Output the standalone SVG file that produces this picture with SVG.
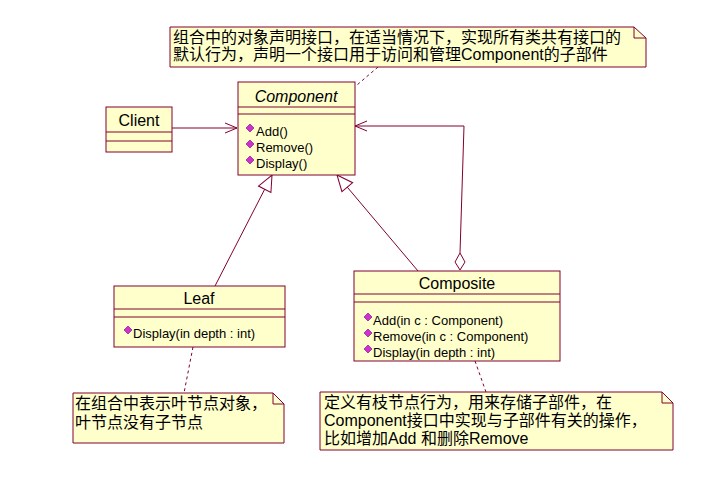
<svg xmlns="http://www.w3.org/2000/svg" width="722" height="495" viewBox="0 0 722 495">
<style>
.box{fill:#FFFFCC;stroke:#800030;stroke-width:1}
.ln{fill:none;stroke:#800030;stroke-width:1}
.dash{fill:none;stroke:#800030;stroke-width:1;stroke-dasharray:3,3}
.t{font-family:"Liberation Sans","Noto Sans CJK SC",sans-serif;fill:#000}
.title{font-size:16px;text-anchor:middle}
.m{font-size:13px}
.n{font-size:16px}
.ic{fill:#CC33CC;stroke:#800080;stroke-width:0.6}
</style>
<defs>
<marker id="open" markerWidth="14" markerHeight="12" refX="13" refY="6" orient="auto" markerUnits="userSpaceOnUse">
<path d="M1,1 L13,6 L1,11" fill="none" stroke="#800030" stroke-width="1"/>
</marker>
<marker id="tri" markerWidth="18" markerHeight="18" refX="17" refY="8" orient="auto" markerUnits="userSpaceOnUse">
<path d="M1,1 L17,8 L1,15 Z" fill="#fff" stroke="#800030" stroke-width="1"/>
</marker>
<path id="dia" d="M0,-4 L4,0 L0,4 L-4,0 Z"/>
</defs>
<rect width="722" height="495" fill="#fff"/>

<g id="connectors">
<line class="ln" x1="172" y1="128" x2="237" y2="128" marker-end="url(#open)"/>
<line class="ln" x1="215" y1="286" x2="272" y2="175" marker-end="url(#tri)"/>
<line class="ln" x1="418" y1="271" x2="337" y2="175" marker-end="url(#tri)"/>
<path class="ln" d="M460,270 L465,262 L460,253 L455,262 Z" fill="#fff"/>
<polyline class="ln" points="460,253 464,126 355,126" marker-end="url(#open)"/>
<line class="dash" x1="378" y1="67" x2="357" y2="85"/>
<line class="dash" x1="193" y1="347" x2="184" y2="393"/>
<line class="dash" x1="475" y1="361" x2="486" y2="392"/>
</g>

<g id="note-top">
<path class="box" d="M170,27 L634,27 L646,38 L646,67 L170,67 Z"/>
<path class="ln" d="M634,27 L634,38 L646,38"/>
<text class="t n" x="173" y="43">组合中的对象声明接口，在适当情况下，实现所有类共有接口的</text>
<text class="t n" x="173" y="60">默认行为，声明一个接口用于访问和管理Component的子部件</text>
</g>

<g id="client">
<rect class="box" x="106" y="107" width="66" height="45"/>
<line class="ln" x1="106" y1="132" x2="172" y2="132"/>
<line class="ln" x1="106" y1="141" x2="172" y2="141"/>
<text class="t title" x="139" y="126">Client</text>
</g>

<g id="component">
<rect class="box" x="238" y="82" width="117" height="93"/>
<line class="ln" x1="238" y1="107" x2="355" y2="107"/>
<line class="ln" x1="238" y1="114" x2="355" y2="114"/>
<text class="t title" x="296" y="102" font-style="italic">Component</text>
<use href="#dia" class="ic" x="250" y="128"/>
<text class="t m" x="256" y="136">Add()</text>
<use href="#dia" class="ic" x="250" y="144"/>
<text class="t m" x="256" y="152">Remove()</text>
<use href="#dia" class="ic" x="250" y="160"/>
<text class="t m" x="256" y="168">Display()</text>
</g>

<g id="leaf">
<rect class="box" x="114" y="286" width="171" height="61"/>
<line class="ln" x1="114" y1="309" x2="285" y2="309"/>
<line class="ln" x1="114" y1="317" x2="285" y2="317"/>
<text class="t title" x="199" y="304">Leaf</text>
<use href="#dia" class="ic" x="128" y="330"/>
<text class="t m" x="133" y="338">Display(in depth : int)</text>
</g>

<g id="composite">
<rect class="box" x="354" y="271" width="206" height="90"/>
<line class="ln" x1="354" y1="294" x2="560" y2="294"/>
<line class="ln" x1="354" y1="302" x2="560" y2="302"/>
<text class="t title" x="457" y="289">Composite</text>
<use href="#dia" class="ic" x="368" y="317"/>
<text class="t m" x="373" y="325">Add(in c : Component)</text>
<use href="#dia" class="ic" x="368" y="333"/>
<text class="t m" x="373" y="341">Remove(in c : Component)</text>
<use href="#dia" class="ic" x="368" y="349"/>
<text class="t m" x="373" y="357">Display(in depth : int)</text>
</g>

<g id="note-leaf">
<path class="box" d="M73,393 L273,393 L284,404 L284,443 L73,443 Z"/>
<path class="ln" d="M273,393 L273,404 L284,404"/>
<text class="t n" x="75" y="409">在组合中表示叶节点对象，</text>
<text class="t n" x="75" y="428">叶节点没有子节点</text>
</g>

<g id="note-composite">
<path class="box" d="M320,392 L662,392 L673,403 L673,450 L320,450 Z"/>
<path class="ln" d="M662,392 L662,403 L673,403"/>
<text class="t n" x="324" y="408">定义有枝节点行为，用来存储子部件，在</text>
<text class="t n" x="324" y="426">Component接口中实现与子部件有关的操作，</text>
<text class="t n" x="324" y="444">比如增加Add 和删除Remove</text>
</g>
</svg>
